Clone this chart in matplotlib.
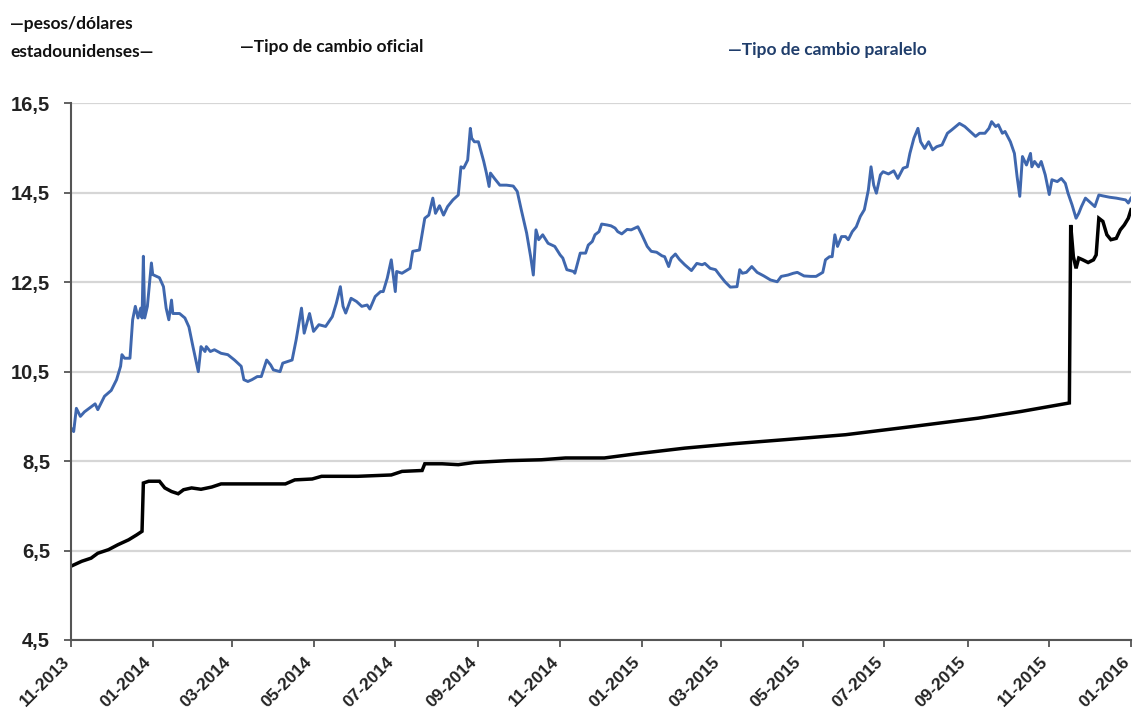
import numpy as np
import matplotlib
matplotlib.use("Agg")
import matplotlib.pyplot as plt
import matplotlib.dates as mdates
import matplotlib.transforms as mtransforms
import pandas as pd

# ---------------- data ----------------
FECHA_INICIO = "2013-11-01"
FECHA_FIN = "2016-01-01"

# Tipo de cambio paralelo: days since FECHA_INICIO and value (pesos per USD)
dias_paralelo = [
    0, 2, 4, 7, 10, 18, 20, 25, 30, 34, 37, 38, 40, 44, 46, 48, 50, 52, 53, 54,
    55, 57, 60, 61, 66, 69, 71, 73, 75, 76, 81, 85, 88, 91, 95, 97, 100, 101, 104, 107,
    112, 117, 122, 127, 129, 132, 135, 139, 142, 146, 149, 151, 156, 158, 165, 168, 172, 174, 178, 181,
    185, 190, 195, 198, 201, 203, 205, 209, 213, 217, 221, 223, 227, 231, 233, 236, 239, 242, 243, 247,
    253, 255, 260, 264, 267, 270, 272, 275, 278, 281, 285, 289, 291, 293, 296, 298, 299, 301, 304, 308,
    310, 312, 313, 316, 320, 325, 330, 333, 336, 340, 343, 345, 347, 349, 352, 356, 361, 365, 367, 370,
    375, 376, 380, 384, 386, 389, 391, 394, 396, 400, 403, 406, 408, 411, 415, 418, 423, 426, 430, 433,
    437, 441, 443, 446, 448, 451, 454, 458, 463, 467, 471, 473, 477, 481, 484, 488, 492, 497, 499, 501,
    504, 508, 512, 517, 522, 527, 530, 535, 539, 542, 547, 552, 556, 561, 563, 566, 568, 570, 572, 575,
    578, 580, 583, 586, 589, 592, 595, 597, 599, 601, 604, 606, 610, 614, 617, 621, 624, 626, 629, 632,
    634, 637, 640, 643, 646, 650, 654, 657, 663, 667, 671, 675, 678, 682, 685, 687, 690, 692, 695, 697,
    701, 704, 706, 708, 710, 713, 716, 717, 719, 722, 724, 727, 730, 732, 736, 739, 742, 744, 747, 750,
    752, 754, 757, 760, 764, 767, 770, 775, 780, 787, 789, 791,
]
valores_paralelo = [
    9.24, 9.16, 9.68, 9.50, 9.60, 9.78, 9.65, 9.95, 10.08, 10.32, 10.62, 10.88, 10.80, 10.80, 11.66, 11.96, 11.70, 11.92, 11.70, 13.08,
    11.70, 11.96, 12.93, 12.67, 12.60, 12.40, 11.92, 11.66, 12.10, 11.80, 11.80, 11.70, 11.50, 11.06, 10.50, 11.06, 10.95, 11.06, 10.95, 10.99,
    10.91, 10.88, 10.76, 10.62, 10.32, 10.28, 10.32, 10.39, 10.39, 10.76, 10.65, 10.54, 10.50, 10.69, 10.76, 11.21, 11.92, 11.36, 11.80, 11.40,
    11.55, 11.51, 11.73, 12.03, 12.40, 11.96, 11.81, 12.14, 12.07, 11.96, 11.99, 11.90, 12.18, 12.29, 12.29, 12.59, 13.00, 12.29, 12.74, 12.70,
    12.81, 13.19, 13.22, 13.93, 14.00, 14.38, 14.04, 14.21, 14.00, 14.19, 14.34, 14.45, 15.08, 15.05, 15.23, 15.94, 15.72, 15.64, 15.64, 15.20,
    14.94, 14.64, 14.94, 14.82, 14.67, 14.67, 14.65, 14.53, 14.12, 13.60, 13.07, 12.66, 13.67, 13.45, 13.56, 13.37, 13.30, 13.11, 13.04, 12.78,
    12.74, 12.70, 13.15, 13.15, 13.33, 13.41, 13.56, 13.63, 13.80, 13.78, 13.76, 13.71, 13.63, 13.58, 13.68, 13.67, 13.74, 13.56, 13.30, 13.19,
    13.17, 13.09, 13.07, 12.85, 13.04, 13.13, 13.01, 12.89, 12.76, 12.92, 12.89, 12.92, 12.81, 12.78, 12.66, 12.51, 12.39, 12.40, 12.78, 12.70,
    12.72, 12.85, 12.72, 12.64, 12.55, 12.51, 12.63, 12.66, 12.70, 12.72, 12.64, 12.63, 12.63, 12.72, 13.00, 13.07, 13.07, 13.56, 13.30, 13.52,
    13.52, 13.45, 13.63, 13.74, 13.97, 14.12, 14.56, 15.08, 14.67, 14.49, 14.90, 14.97, 14.92, 14.99, 14.82, 15.05, 15.08, 15.38, 15.72, 15.94,
    15.64, 15.49, 15.64, 15.46, 15.53, 15.57, 15.83, 15.90, 16.05, 15.98, 15.87, 15.76, 15.83, 15.83, 15.94, 16.09, 15.98, 16.02, 15.83, 15.87,
    15.64, 15.38, 14.86, 14.42, 15.31, 15.12, 15.38, 15.08, 15.20, 15.08, 15.20, 14.90, 14.46, 14.79, 14.75, 14.82, 14.71, 14.49, 14.23, 13.93,
    14.04, 14.19, 14.38, 14.30, 14.19, 14.45, 14.43, 14.40, 14.38, 14.34, 14.27, 14.38,
]

# Tipo de cambio oficial
dias_oficial = [
    0, 8, 15, 20, 28, 35, 43, 49, 53, 54, 58, 66, 70, 75, 80, 84, 90, 97, 105, 112,
    125, 145, 160, 167, 180, 187, 214, 239, 247, 262, 264, 277, 289, 301, 326, 351, 369, 398, 421, 458,
    495, 533, 578, 627, 677, 709, 745, 746, 748, 750, 752, 755, 759, 763, 765, 767, 770, 773, 776, 780,
    783, 786, 789, 791,
]
valores_oficial = [
    6.15, 6.26, 6.33, 6.44, 6.52, 6.63, 6.74, 6.85, 6.93, 8.01, 8.05, 8.05, 7.90, 7.82, 7.77, 7.86, 7.90, 7.87, 7.92, 7.99,
    7.99, 7.99, 7.99, 8.08, 8.10, 8.16, 8.16, 8.19, 8.27, 8.29, 8.44, 8.44, 8.42, 8.47, 8.51, 8.53, 8.57, 8.57, 8.66, 8.79,
    8.89, 8.98, 9.09, 9.27, 9.46, 9.61, 9.80, 13.78, 13.07, 12.81, 13.04, 13.00, 12.94, 13.00, 13.11, 13.93, 13.86, 13.56, 13.45, 13.48,
    13.67, 13.78, 13.93, 14.12,
]

y_ticks = [4.5, 6.5, 8.5, 10.5, 12.5, 14.5, 16.5]
y_tick_labels = ["4,5", "6,5", "8,5", "10,5", "12,5", "14,5", "16,5"]

texto_unidad_1 = "—pesos/dólares"
texto_unidad_2 = "estadounidenses—"
leyenda_oficial = "—Tipo de cambio oficial"
leyenda_paralelo = "—Tipo de cambio paralelo"

# ---------------- drawing ----------------
base = pd.Timestamp(FECHA_INICIO)
x_par = base + pd.to_timedelta(dias_paralelo, unit="D")
x_ofi = base + pd.to_timedelta(dias_oficial, unit="D")

W, H = 1136, 721
fig = plt.figure(figsize=(W / 100, H / 100), dpi=100)
ax = fig.add_axes([71 / W, 1 - 640 / H, (1131 - 71) / W, (640 - 103.3) / H])

ax.plot(x_par, valores_paralelo, color="#3F67AE", lw=2.1, solid_joinstyle="round")
ax.plot(x_ofi, valores_oficial, color="#000000", lw=2.5, solid_joinstyle="miter")

ax.set_ylim(4.5, 16.5)
ax.set_xlim(pd.Timestamp(FECHA_INICIO), pd.Timestamp(FECHA_FIN))
ax.set_yticks(y_ticks)
ax.set_yticklabels(y_tick_labels)
ax.yaxis.grid(True, color="#d6d6d6", lw=1.6)
ax.set_axisbelow(True)

ax.xaxis.set_major_locator(mdates.MonthLocator(bymonth=[1, 3, 5, 7, 9, 11]))
ax.xaxis.set_major_formatter(mdates.DateFormatter("%m-%Y"))

for s in ["top", "right"]:
    ax.spines[s].set_visible(False)
for s in ["left", "bottom"]:
    ax.spines[s].set_color("#555555")
    ax.spines[s].set_linewidth(1.5)

ax.tick_params(axis="both", direction="out", length=5, width=1.3, color="#555555")
ax.tick_params(axis="y", pad=10)
ax.tick_params(axis="x", pad=9)

shift = mtransforms.ScaledTranslation(-4 / 100, 0, fig.dpi_scale_trans)
for lab in ax.get_yticklabels():
    lab.set_fontfamily("Liberation Sans")
    lab.set_fontweight("bold")
    lab.set_fontsize(14.5)
    lab.set_color("#222222")
for lab in ax.get_xticklabels():
    lab.set_fontfamily("Liberation Sans")
    lab.set_fontweight("bold")
    lab.set_fontsize(12.5)
    lab.set_color("#222222")
    lab.set_rotation(45)
    lab.set_ha("right")
    lab.set_va("center")
    lab.set_rotation_mode("anchor")
    lab.set_transform(lab.get_transform() + shift)

hdr = dict(fontfamily="Lato", fontweight="bold", fontsize=12.5, va="center", ha="left")
fig.text(10 / W, 1 - 24 / H, texto_unidad_1, color="#111111", **hdr)
fig.text(10 / W, 1 - 52 / H, texto_unidad_2, color="#111111", **hdr)
fig.text(240 / W, 1 - 47 / H, leyenda_oficial, color="#111111", **hdr)
fig.text(728 / W, 1 - 50 / H, leyenda_paralelo, color="#1F3D6B", **hdr)

fig.savefig("out.png", dpi=100)
